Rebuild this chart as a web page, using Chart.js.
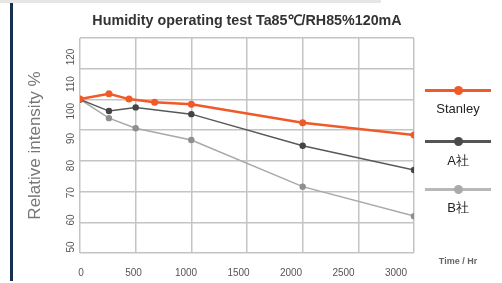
<!DOCTYPE html>
<html>
<head>
<meta charset="utf-8">
<script src="https://cdn.jsdelivr.net/npm/chart.js@4/dist/chart.umd.min.js"></script>
<style>
  html, body { margin: 0; padding: 0; background: #fff; }
  #wrap { position: relative; width: 502px; height: 283px; overflow: hidden; font-family: "Liberation Sans", Arial, sans-serif; }
  #topBar { position: absolute; left: 0; top: 0; width: 381px; height: 3px; background: #e6e6e6; }
  #sideBar { position: absolute; left: 10px; top: 3px; width: 3px; height: 278px; background: #16304f; }
  #legend { position: absolute; left: 425px; top: 0; width: 66px; }
  .item { position: absolute; left: 0; width: 66px; height: 30px; }
  .item .ln { position: absolute; left: 0; width: 66px; height: 3px; top: -1.5px; }
  .item .dot { position: absolute; left: 28.5px; top: -4.5px; width: 9px; height: 9px; border-radius: 50%; }
  .item .txt { position: absolute; left: -20px; width: 106px; top: 10px; text-align: center; font-size: 13px; color: #222; }
  #timeLbl { position: absolute; left: 430px; top: 256px; width: 56px; text-align: center; font-size: 9px; font-weight: bold; color: #666; }
</style>
</head>
<body>
<div id="wrap">
  <canvas id="chart" width="502" height="283"></canvas>
  <div id="topBar"></div>
  <div id="sideBar"></div>
  <div id="legend"></div>
  <div id="timeLbl">Time / Hr</div>
</div>
<script>
// hours (grid spacing = 500 hr)
const hoursStanley = [0, 260, 440, 670, 1000, 2000, 3000];
const stanleyVals = [100.1, 101.8, 100.1, 99.1, 98.4, 92.4, 88.4];
const hoursAB = [0, 260, 500, 1000, 2000, 3000];
const companyAVals = [100, 96.2, 97.4, 95.2, 84.9, 77.0];
const companyBVals = [100, 93.9, 90.6, 86.8, 71.6, 62.0];

const seriesNames = ['Stanley', 'A社', 'B社'];
const xTickLabels = [0, 500, 1000, 1500, 2000, 2500, 3000];
const yTickLabels = [50, 60, 70, 80, 90, 100, 110, 120];

const TITLE = 'Humidity operating test Ta85℃/RH85%120mA';
const GRIDCOLOR = '#c4c4c4';
const TICKCOLOR = '#555';

const lineColors = ['#f05a28', '#585858', '#a8a8a8'];
const pointColors = ['#f05a28', '#444444', '#8f8f8f'];
const legendDots = ['#f05a28', '#4a4a4a', '#aaaaaa'];
const legendLines = ['#f05a28', '#555555', '#b8b8b8'];

function toPoints(xs, ys) {
    return xs.map(function (x, i) { return { x: x, y: ys[i] }; });
}

const data = {
    datasets: [
        {
            label: seriesNames[0],
            data: toPoints(hoursStanley, stanleyVals),
            borderColor: lineColors[0],
            backgroundColor: pointColors[0],
            borderWidth: 2.5,
            pointRadius: 3.5,
            pointBorderWidth: 0,
            xAxisID: 'x',
            yAxisID: 'y'
        },
        {
            label: seriesNames[1],
            data: toPoints(hoursAB, companyAVals),
            borderColor: lineColors[1],
            backgroundColor: pointColors[1],
            borderWidth: 1.5,
            pointRadius: 3.2,
            pointBorderWidth: 0,
            xAxisID: 'x',
            yAxisID: 'y'
        },
        {
            label: seriesNames[2],
            data: toPoints(hoursAB, companyBVals),
            borderColor: lineColors[2],
            backgroundColor: pointColors[2],
            borderWidth: 1.5,
            pointRadius: 3.2,
            pointBorderWidth: 0,
            xAxisID: 'x',
            yAxisID: 'y'
        }
    ]
};

// the labels in the picture do not sit on the grid, so they get their own axes
function fixTicks(values) {
    return function (scale) {
        scale.ticks = values.map(function (v) { return { value: v }; });
    };
}

function plainLabel(value) {
    return String(value);
}

const config = {
    type: 'line',
    data: data,
    options: {
        responsive: false,
        animation: false,
        layout: { padding: { left: 0, right: 88, top: 0, bottom: 0 } },
        plugins: {
            legend: { display: false },
            tooltip: { enabled: false },
            title: {
                display: true,
                text: TITLE,
                fullSize: false,
                color: '#333',
                font: { family: '"Liberation Sans", Arial, sans-serif', size: 14.3, weight: 'bold' },
                padding: { top: 12.6, bottom: 8.2 }
            }
        },
        scales: {
            x: {
                type: 'linear',
                position: 'bottom',
                weight: 0,
                min: 0,
                max: 3000,
                ticks: { display: false, stepSize: 500 },
                grid: { color: GRIDCOLOR, lineWidth: 1.5, drawTicks: false },
                border: { display: false }
            },
            y: {
                type: 'linear',
                position: 'left',
                weight: 0,
                min: 50,
                max: 120,
                ticks: { display: false, stepSize: 10 },
                grid: { color: GRIDCOLOR, lineWidth: 1.5, drawTicks: false },
                border: { display: false }
            },
            xL: {
                type: 'linear',
                position: 'bottom',
                weight: 1,
                min: -9.5,
                max: 3171,
                afterBuildTicks: fixTicks(xTickLabels),
                afterFit: function (s) { s.height = 30; },
                ticks: {
                    color: TICKCOLOR,
                    padding: 6,
                    maxRotation: 0,
                    callback: plainLabel,
                    font: { family: '"Liberation Sans", Arial, sans-serif', size: 10 }
                },
                grid: { display: false },
                border: { display: false }
            },
            yL: {
                type: 'linear',
                position: 'left',
                weight: 1,
                min: 47.8,
                max: 127.0,
                afterBuildTicks: fixTicks(yTickLabels),
                afterFit: function (s) { s.width = 80; },
                ticks: {
                    color: TICKCOLOR,
                    padding: -8,
                    minRotation: 90,
                    maxRotation: 90,
                    crossAlign: 'center',
                    callback: plainLabel,
                    font: { family: '"Liberation Sans", Arial, sans-serif', size: 10 }
                },
                grid: { display: false },
                border: { display: false },
                title: {
                    display: true,
                    text: 'Relative intensity %',
                    color: '#777',
                    font: { family: '"Liberation Sans", Arial, sans-serif', size: 17 },
                    padding: { top: 24.8, bottom: 4 }
                }
            }
        }
    }
};

function buildLegend() {
    const lineY = [90.7, 141.7, 189];
    const box = document.getElementById('legend');
    for (let i = 0; i < seriesNames.length; i++) {
        const item = document.createElement('div');
        item.className = 'item';
        item.style.top = lineY[i] + 'px';
        item.innerHTML = '<div class="ln" style="background:' + legendLines[i] + '"></div>' +
            '<div class="dot" style="background:' + legendDots[i] + '"></div>' +
            '<div class="txt">' + seriesNames[i] + '</div>';
        box.appendChild(item);
    }
}

buildLegend();
const chart = new Chart(document.getElementById('chart'), config);
</script>
</body>
</html>
